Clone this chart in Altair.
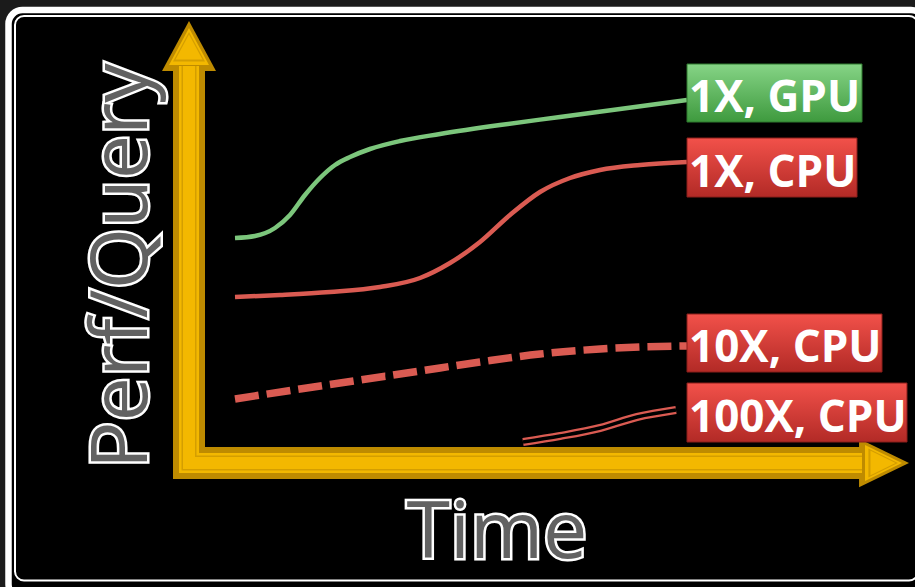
import altair as alt
import pandas as pd

# ---------------- data (time t, perf p; origin = corner of the axes) ----------------
gpu_t = [46, 66, 86, 101, 116, 131, 146, 161, 181, 211, 251, 311, 371, 431, 498]
gpu_p = [225, 227, 235, 248, 268, 285, 298, 306, 314, 322, 329, 338, 346, 354, 363]

cpu1_t = [46, 91, 141, 191, 231, 261, 291, 321, 351, 381, 411, 451, 498]
cpu1_p = [166, 168, 171, 176, 185, 200, 221, 248, 271, 285, 293, 298, 301]

cpu10_t = [46, 111, 171, 231, 291, 351, 411, 451, 498]
cpu10_p = [64, 74, 83, 92, 101, 109, 114, 116, 117]

cpu100_t = [334, 371, 411, 448, 487]
cpu100_p = [21, 27, 35, 46, 53]

labels = ["1X, GPU", "1X, CPU", "10X, CPU", "100X, CPU"]
label_kind = ["gpu", "cpu", "cpu", "cpu"]
label_t0 = [498, 498, 498, 498]
label_t1 = [673, 668, 693, 718]
label_p_top = [399, 325, 149, 80]
label_p_bot = [341, 266, 91, 21]
label_text_t = [500, 500, 500, 500]
label_text_p = [351, 276, 101, 31]

axis_shaft_t = [0, 0, 673]
axis_shaft_p = [397, 0, 0]
axis_head_t = [0, 693]
axis_head_p = [415, 0]
axis_head_dir = ["up", "right"]

frame_t = [-180.5, -174]
frame_t2 = [736, 729]
frame_p = [453, 447]
frame_p2 = [-135, -117.5]

titles = ["Time", "Perf/Query"]
title_t = [308, -42]
title_p = [-95, 197]
title_angle = [0, 270]

# ---------------- scales ----------------
XS = alt.Scale(domain=[-189, 726], nice=False, zero=False)
YS = alt.Scale(domain=[-124, 463], nice=False, zero=False)


def X(f="t"):
    return alt.X(f"{f}:Q", scale=XS, axis=None)


def Y(f="p"):
    return alt.Y(f"{f}:Q", scale=YS, axis=None)


def seq(t, p):
    return pd.DataFrame({"t": t, "p": p, "i": list(range(len(t)))})


layers = []

# frame
frame_df = pd.DataFrame({"t": frame_t, "t2": frame_t2, "p": frame_p, "p2": frame_p2})
layers.append(
    alt.Chart(frame_df.iloc[[0]]).mark_rect(
        fill="black", stroke="white", strokeWidth=6.5, cornerRadius=14
    ).encode(x=X(), x2="t2:Q", y=Y(), y2="p2:Q")
)
layers.append(
    alt.Chart(frame_df.iloc[[1]]).mark_rect(
        fill="transparent", stroke="white", strokeWidth=2, cornerRadius=9
    ).encode(x=X(), x2="t2:Q", y=Y(), y2="p2:Q")
)

# axes arrows
DARK = "#BE8B00"
BRIGHT = "#F3B800"
MID = "#D49E00"
shaft_df = seq(axis_shaft_t, axis_shaft_p)
head_df = pd.DataFrame({"t": axis_head_t, "p": axis_head_p, "dir": axis_head_dir})
UP = "M0,-1L1,0.85L-1,0.85Z"
RIGHT = "M1,0L-0.85,0.9L-0.85,-0.9Z"
for color, w, side in [(DARK, 32, 54), (BRIGHT, 20, 40), (MID, 15, 32), (BRIGHT, 12, 27)]:
    layers.append(
        alt.Chart(shaft_df).mark_line(
            color=color, strokeWidth=w, strokeJoin="miter", strokeCap="butt"
        ).encode(x=X(), y=Y(), order="i:Q")
    )
    layers.append(
        alt.Chart(head_df).mark_point(
            filled=True, fill=color, opacity=1, strokeWidth=0, size=side * side
        ).encode(
            x=X(), y=Y(),
            shape=alt.Shape("dir:N", scale=alt.Scale(domain=["up", "right"], range=[UP, RIGHT]), legend=None),
        )
    )

# curves
GREEN = "#7CC67C"
RED = "#DA5B52"
layers.append(
    alt.Chart(seq(gpu_t, gpu_p)).mark_line(color=GREEN, strokeWidth=4.5, interpolate="monotone")
    .encode(x=X(), y=Y(), order="i:Q")
)
layers.append(
    alt.Chart(seq(cpu1_t, cpu1_p)).mark_line(color=RED, strokeWidth=4.5, interpolate="monotone")
    .encode(x=X(), y=Y(), order="i:Q")
)
layers.append(
    alt.Chart(seq(cpu10_t, cpu10_p)).mark_line(
        color=RED, strokeWidth=7.5, strokeDash=[24, 8], interpolate="monotone"
    ).encode(x=X(), y=Y(), order="i:Q")
)
layers.append(
    alt.Chart(seq(cpu100_t, cpu100_p)).mark_line(color=RED, strokeWidth=8, interpolate="monotone")
    .encode(x=X(), y=Y(), order="i:Q")
)
layers.append(
    alt.Chart(seq(cpu100_t, cpu100_p)).mark_line(color="black", strokeWidth=3.5, interpolate="monotone")
    .encode(x=X(), y=Y(), order="i:Q")
)

# labels
lab_df = pd.DataFrame({
    "label": labels, "kind": label_kind, "t": label_t0, "t2": label_t1,
    "p": label_p_top, "p2": label_p_bot, "tt": label_text_t, "tp": label_text_p,
})
green_grad = alt.Gradient(
    gradient="linear", x1=0, x2=0, y1=0, y2=1,
    stops=[alt.GradientStop(color="#86D486", offset=0), alt.GradientStop(color="#3E9A3E", offset=1)],
)
red_grad = alt.Gradient(
    gradient="linear", x1=0, x2=0, y1=0, y2=1,
    stops=[alt.GradientStop(color="#F2514A", offset=0), alt.GradientStop(color="#B22A26", offset=1)],
)
layers.append(
    alt.Chart(lab_df[lab_df.kind == "gpu"]).mark_rect(fill=green_grad, stroke="#2E7A2E", strokeWidth=1)
    .encode(x=X(), x2="t2:Q", y=Y(), y2="p2:Q")
)
layers.append(
    alt.Chart(lab_df[lab_df.kind == "cpu"]).mark_rect(fill=red_grad, stroke="#8A1E1A", strokeWidth=1)
    .encode(x=X(), x2="t2:Q", y=Y(), y2="p2:Q")
)
layers.append(
    alt.Chart(lab_df).mark_text(
        align="left", baseline="alphabetic", font="Open Sans", fontWeight="bold",
        fontSize=44, color="white",
    ).encode(x=X("tt"), y=Y("tp"), text="label:N")
)

# axis titles: white rim underneath, gray letter bodies on top
title_df = pd.DataFrame({"t": title_t, "p": title_p, "s": titles, "a": title_angle})
for a in [0, 270]:
    layers.append(
        alt.Chart(title_df[title_df.a == a]).mark_text(
            align="center", baseline="alphabetic", font="Open Sans", fontSize=79,
            angle=a, color="white", stroke="white", strokeWidth=5,
        ).encode(x=X(), y=Y(), text="s:N")
    )
for a in [0, 270]:
    layers.append(
        alt.Chart(title_df[title_df.a == a]).mark_text(
            align="center", baseline="alphabetic", font="Open Sans", fontSize=79,
            angle=a, color="#626262",
        ).encode(x=X(), y=Y(), text="s:N")
    )

chart = alt.layer(*layers).properties(
    width=915, height=587, padding=0, autosize=alt.AutoSizeParams(type="none"),
    background="#1b1b1b",
).configure_view(strokeWidth=0)

chart.save("out.html", embed_options={"renderer": "svg", "actions": False})
